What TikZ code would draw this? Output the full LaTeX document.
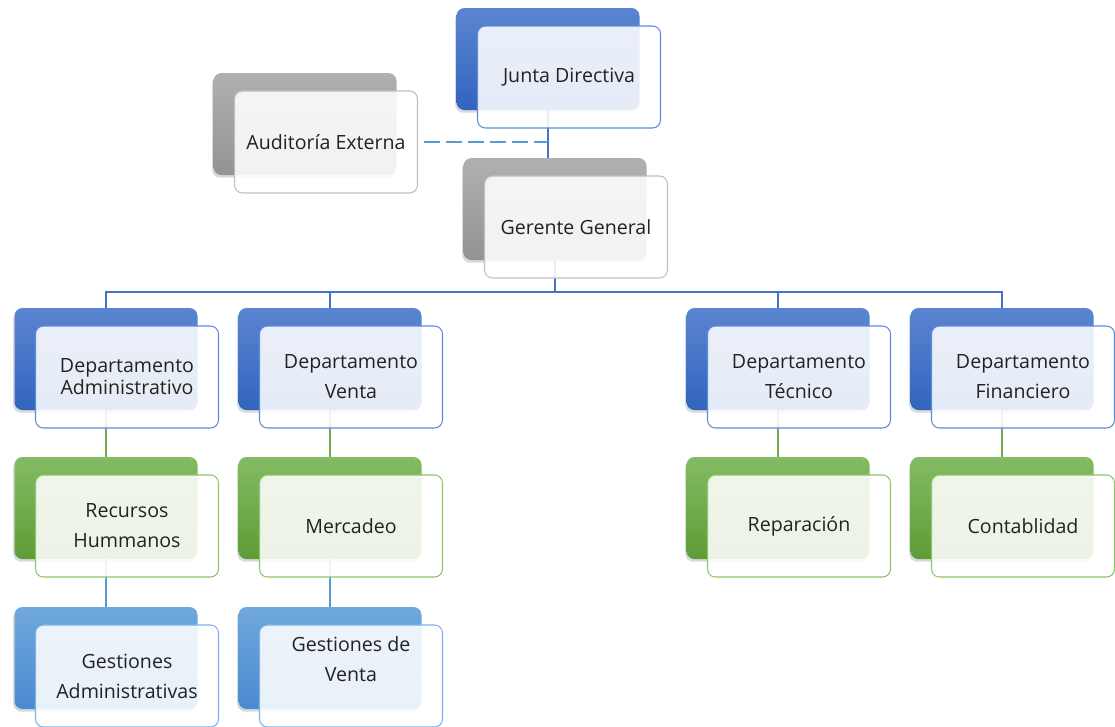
\documentclass[tikz,border=0pt]{standalone}
\usepackage{fontspec}
\setmainfont{Open Sans}
\usetikzlibrary{shadows}

\definecolor{azulA}{HTML}{5B85D0}
\definecolor{azulB}{HTML}{3264BF}
\definecolor{azulF}{HTML}{5C8ED8}
\definecolor{verdeA}{HTML}{83BB63}
\definecolor{verdeB}{HTML}{5E9D36}
\definecolor{verdeF}{HTML}{8DC46C}
\definecolor{celesteA}{HTML}{70A8DD}
\definecolor{celesteB}{HTML}{4A8ACF}
\definecolor{celesteF}{HTML}{7DB3E4}
\definecolor{grisA}{HTML}{B0B0B0}
\definecolor{grisB}{HTML}{939393}
\definecolor{grisF}{HTML}{BFBFBF}
\definecolor{lineaA}{HTML}{4472C4}
\definecolor{lineaV}{HTML}{70AD47}
\definecolor{lineaC}{HTML}{5B9BD5}
\definecolor{texto}{HTML}{222222}

\pgfdeclarelayer{bg}
\pgfsetlayers{bg,main}

\tikzset{
  caja/.style={rounded corners=6pt, minimum width=137.25pt, minimum height=76.5pt, inner sep=0pt},
  atras/.style={caja, drop shadow={shadow xshift=-1pt, shadow yshift=-2pt, opacity=0.3}},
  frente/.style={caja, draw, line width=0.8pt, fill=white, fill opacity=0.88, text opacity=1,
    align=center, text=texto, font=\fontsize{14.7}{22.5}\selectfont},
  azul/back/.style={top color=azulA, bottom color=azulB},
  azul/front/.style={draw=azulF},
  verde/back/.style={top color=verdeA, bottom color=verdeB},
  verde/front/.style={draw=verdeF},
  celeste/back/.style={top color=celesteA, bottom color=celesteB},
  celeste/front/.style={draw=celesteF},
  gris/back/.style={top color=grisA, bottom color=grisB},
  gris/front/.style={draw=grisF},
  conAzul/.style={draw=lineaA, line width=1.1pt},
  conVerde/.style={draw=lineaV, line width=1.1pt},
  conCeleste/.style={draw=lineaC, line width=1.1pt},
}

% #1 extra options of the front box, #2 name, #3 x, #4 y, #5 colour, #6 text
\newcommand{\unidad}[6][]{%
  \node[atras, #5/back] (#2b) at (#3,#4) {};
  \node[frente, #5/front, #1] (#2) at (#3+21,#4+18) {#6};
}

\begin{document}
\begin{tikzpicture}[x=0.75pt,y=0.75pt,yscale=-1,xscale=1]
  \useasboundingbox (0,0) rectangle (1115,726);

  % top of the chart
  \unidad{junta}{548}{59}{azul}{Junta Directiva}
  \unidad{aud}{305}{124}{gris}{Auditoría Externa}
  \unidad{ger}{555}{209}{gris}{Gerente General}

  % departments
  \unidad[font=\fontsize{14.7}{16.5}\selectfont]{dadm}{106}{359}{azul}{Departamento\\Administrativo}
  \unidad{dven}{330}{359}{azul}{Departamento\\Venta}
  \unidad{dtec}{778}{359}{azul}{Departamento\\Técnico}
  \unidad{dfin}{1002}{359}{azul}{Departamento\\Financiero}

  % second level
  \unidad{rrhh}{106}{508}{verde}{Recursos\\Hummanos}
  \unidad{merc}{330}{508}{verde}{Mercadeo}
  \unidad{repa}{778}{508}{verde}{Reparación}
  \unidad{cont}{1002}{508}{verde}{Contablidad}

  % third level
  \unidad{gadm}{106}{658}{celeste}{Gestiones\\Administrativas}
  \unidad{gven}{330}{658}{celeste}{\raisebox{8pt}[0pt][0pt]{\begin{tabular}{@{}c@{}}Gestiones de\\Venta\end{tabular}}}

  \begin{pgfonlayer}{bg}
    \coordinate (bus) at (554,292);
    \draw[conAzul] (juntab.south) -- (juntab.south |- gerb.north);
    \draw[conAzul] (gerb.south) -- (gerb.south |- bus);
    \draw[conAzul] (dadmb.north) |- (bus) -| (dfinb.north);
    \draw[conAzul] (dvenb.north) -- (dvenb.north |- bus);
    \draw[conAzul] (dtecb.north) -- (dtecb.north |- bus);
    \draw[conVerde] (dadmb) -- (rrhhb);
    \draw[conVerde] (dvenb) -- (mercb);
    \draw[conVerde] (dtecb) -- (repab);
    \draw[conVerde] (dfinb) -- (contb);
    \draw[conCeleste] (rrhhb) -- (gadmb);
    \draw[conCeleste] (mercb) -- (gvenb);
  \end{pgfonlayer}
  \draw[conCeleste, dash pattern=on 12pt off 4.5pt, shorten <=4.5pt] (aud.east) -- (aud.east -| juntab.south);
\end{tikzpicture}
\end{document}
